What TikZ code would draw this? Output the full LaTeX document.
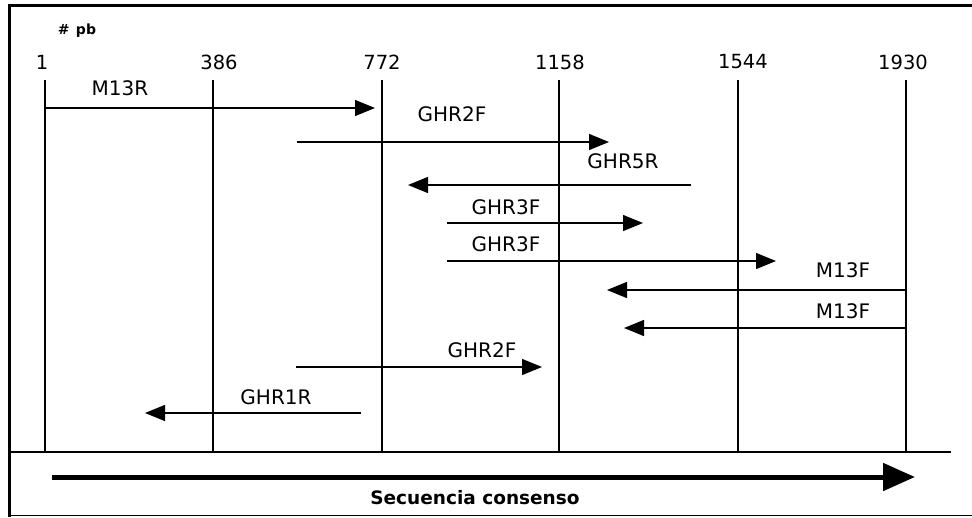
\documentclass[tikz,border=0pt]{standalone}
\usepackage{fontspec}
\setmainfont{DejaVu Sans}
\usetikzlibrary{arrows.meta, positioning}

\begin{document}
\begin{tikzpicture}[x=1pt, y=-1pt,
    primer/.style={line width=1.3pt, -{Triangle[length=20pt, width=16pt]}},
    grid line/.style={line width=1.3pt},
    lbl/.style={font=\fontsize{20}{22}\selectfont, inner sep=0pt},
    tick/.style={font=\fontsize{19.5}{22}\selectfont, inner sep=0pt}]

\useasboundingbox (0,0) rectangle (972,517);

% frame
\draw[line width=3pt] (9,517) -- (9,5) -- (972,5);
\coordinate (base left) at (9,452);
\coordinate (base right) at (951,452);
\draw[line width=1.1pt] (base left) -- (base right);
\draw[line width=0.7pt] (9,515) -- (972,515);

% positions
\node[font=\bfseries\fontsize{14}{16}\selectfont, inner sep=0pt] (pb) at (77,31) {\#\hspace{0.45em}pb};
\foreach \pos/\xx/\lx in {1/45/42, 386/213/219, 772/382/382, 1158/559/560, 1544/738/743, 1930/906/903} {
  \node[tick] (t\pos) at (\lx,62) {\pos};
  \coordinate (top\pos) at (\xx,80);
  \coordinate (bot\pos) at (\xx,452);
  \draw[grid line] (top\pos) -- (bot\pos);
}

% primers
\coordinate (m13r a) at (45,108);   \coordinate (m13r b) at (375,108);
\coordinate (ghr2f a) at (297,142); \coordinate (ghr2f b) at (609,142);
\coordinate (ghr5r a) at (691,185); \coordinate (ghr5r b) at (408,185);
\coordinate (ghr3f a) at (447,223); \coordinate (ghr3f b) at (643,223);
\coordinate (ghr3f2 a) at (447,261); \coordinate (ghr3f2 b) at (776,261);
\coordinate (m13f a) at (906,290);  \coordinate (m13f b) at (607,290);
\coordinate (m13f2 a) at (906,328); \coordinate (m13f2 b) at (624,328);
\coordinate (ghr2f2 a) at (296,367); \coordinate (ghr2f2 b) at (542,367);
\coordinate (ghr1r a) at (361,413); \coordinate (ghr1r b) at (145,413);

\foreach \p in {m13r, ghr2f, ghr5r, ghr3f, ghr3f2, m13f, m13f2, ghr2f2, ghr1r}
  \draw[primer] (\p\space a) -- (\p\space b);

\node[lbl] (l m13r) at (120,88) {M13R};
\node[lbl] (l ghr2f) at (452,114) {GHR2F};
\node[lbl] (l ghr5r) at (623,161) {GHR5R};
\node[lbl] (l ghr3f) at (506,207) {GHR3F};
\node[lbl] (l ghr3f2) at (506,244) {GHR3F};
\node[lbl] (l m13f) at (843,270) {M13F};
\node[lbl] (l m13f2) at (843,311) {M13F};
\node[lbl] (l ghr2f2) at (482,350) {GHR2F};
\node[lbl] (l ghr1r) at (276,397) {GHR1R};

% consensus sequence
\coordinate (seq a) at (52,477);
\coordinate (seq b) at (915,477);
\draw[line width=5pt, -{Triangle[length=32pt, width=27pt]}] (seq a) -- (seq b);
\node[font=\bfseries\fontsize{18.5}{20}\selectfont, inner sep=0pt] (seq) at (475,498) {Secuencia consenso};
\end{tikzpicture}
\end{document}
